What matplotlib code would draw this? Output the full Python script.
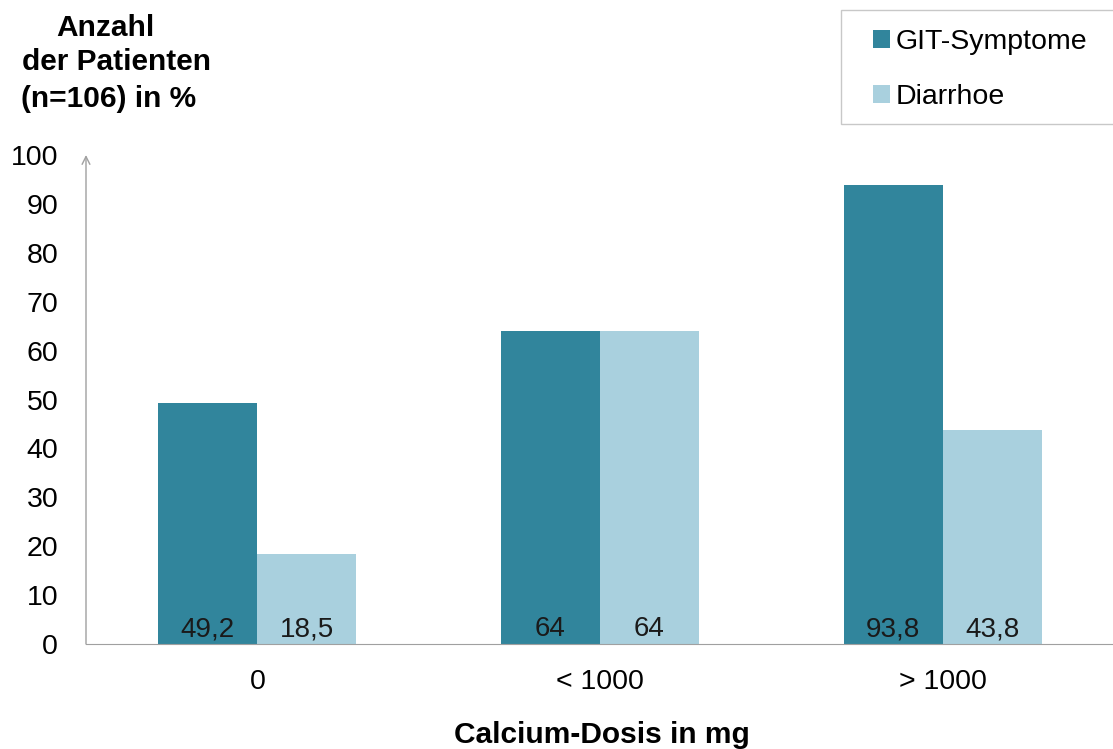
import matplotlib
matplotlib.use("Agg")
import matplotlib.pyplot as plt
from matplotlib.patches import Rectangle
import numpy as np

plt.rcParams['font.family'] = ['Liberation Sans', 'DejaVu Sans']

categories = ["0", "< 1000", "> 1000"]
git_symptome = [49.2, 64, 93.8]
diarrhoe = [18.5, 64, 43.8]
value_labels_git = ["49,2", "64", "93,8"]
value_labels_dia = ["18,5", "64", "43,8"]
yticks = [0, 10, 20, 30, 40, 50, 60, 70, 80, 90, 100]

dark = "#31859C"
light = "#A9D0DE"

W, H = 1113, 749
fig = plt.figure(figsize=(W / 100, H / 100), dpi=100)
ax = fig.add_axes([86/W, 1-644/H, (1114-86)/W, (644-155)/H])

x = np.arange(len(categories))
w = 0.289
b1 = ax.bar(x - w/2, git_symptome, w, color=dark, label="GIT-Symptome")
b2 = ax.bar(x + w/2, diarrhoe, w, color=light, label="Diarrhoe")

for i in range(len(categories)):
    ax.text(x[i] - w/2, 3.0, value_labels_git[i], ha="center", va="center",
            fontsize=20, color="#1a1a1a")
    ax.text(x[i] + w/2, 3.0, value_labels_dia[i], ha="center", va="center",
            fontsize=20, color="#1a1a1a")

ax.set_xlim(-0.5, 2.5)
ax.set_ylim(0, 100)
ax.set_yticks(yticks)
ax.set_yticklabels([str(t) for t in yticks], fontsize=20.5)
ax.set_xticks(x)
ax.set_xticklabels(categories, fontsize=20.5)
ax.tick_params(axis="y", length=0, pad=20)
ax.tick_params(axis="x", length=0, pad=18)

for s in ["top", "right", "left"]:
    ax.spines[s].set_visible(False)
ax.spines["bottom"].set_color("#a0a0a0")
ax.annotate("", xy=(0, 1.0), xytext=(0, 0), xycoords="axes fraction",
            arrowprops=dict(arrowstyle="->", color="#a0a0a0", lw=1.0,
                            mutation_scale=14, shrinkA=0, shrinkB=0))

fig.text(105/W, 1-28/H, "Anzahl", ha="center", va="center",
         fontsize=21.5, fontweight="bold")
fig.text(22/W, 1-62/H, "der Patienten", ha="left", va="center",
         fontsize=21.5, fontweight="bold")
fig.text(21/W, 1-99/H, "(n=106) in %", ha="left", va="center",
         fontsize=21.5, fontweight="bold")

fig.text(602/W, 1-735/H, "Calcium-Dosis in mg", ha="center", va="center",
         fontsize=21.5, fontweight="bold")

# legend frame, running past the right edge of the figure
fig.patches.append(Rectangle((841/W, 1-124/H), 300/W, 114/H,
                             transform=fig.transFigure, facecolor="white",
                             edgecolor="#c8c8c8", lw=1.0, zorder=1))
leg = fig.legend(handles=[b1, b2], loc="upper left",
                 bbox_to_anchor=(873/W, 1-29/H), fontsize=20.5,
                 frameon=False,
                 handlelength=0.6, handleheight=0.6, handletextpad=0.18,
                 labelspacing=1.02, borderpad=0.0, borderaxespad=0)

fig.savefig("out.png", dpi=100)
